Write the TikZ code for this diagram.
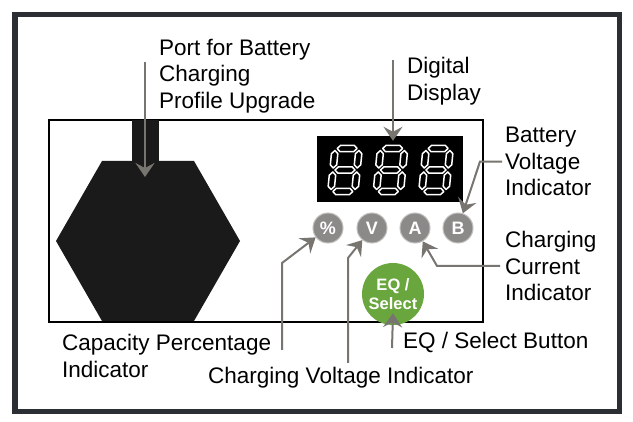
\documentclass[tikz,border=0pt]{standalone}
\usepackage{fontspec}
\setmainfont{Liberation Sans}
\usetikzlibrary{arrows.meta,positioning,calc}
\definecolor{arrowgrey}{RGB}{120,116,112}
\definecolor{ledgrey}{RGB}{140,138,136}
\definecolor{eqgreen}{RGB}{106,166,62}
\definecolor{framegrey}{RGB}{43,46,51}
\definecolor{panelblack}{RGB}{26,26,26}

% one hollow segment of the display, horizontal or vertical
\newcommand{\hseg}[3]{\filldraw[segline] (#1,#3) -- (#1+3.2,#3-3.2) -- (#2-3.2,#3-3.2) -- (#2,#3) -- (#2-3.2,#3+3.2) -- (#1+3.2,#3+3.2) -- cycle;}
\newcommand{\vseg}[3]{\filldraw[segline] (#1,#2) -- (#1+3.2,#2+3.2) -- (#1+3.2,#3-3.2) -- (#1,#3) -- (#1-3.2,#3-3.2) -- (#1-3.2,#2+3.2) -- cycle;}
\newcommand{\segdigit}[1]{%
  \begin{scope}[shift={(#1,145)},xslant=0.1]
    \hseg{5.5}{25.5}{3.5} \hseg{5.5}{25.5}{25} \hseg{5.5}{25.5}{46.5}
    \vseg{3.5}{5.5}{23} \vseg{27.5}{5.5}{23}
    \vseg{3.5}{27}{44.5} \vseg{27.5}{27}{44.5}
  \end{scope}}

\begin{document}
\begin{tikzpicture}[x=1pt,y=-1pt,
  lbl/.style={anchor=north west,inner sep=0,align=left,font=\fontsize{22.5}{26.5}\selectfont},
  arr/.style={arrowgrey,line width=2pt,-{Stealth[length=14pt,width=19pt,inset=5pt]}},
  segline/.style={fill=black,draw=white,line width=1.5pt,line join=round},
  ind/.style={circle,fill=ledgrey,draw=ledgrey!55,line width=1pt,minimum size=30pt,inner sep=0,
    text=white,font=\bfseries\fontsize{18}{18}\selectfont},
  eqbtn/.style={circle,fill=eqgreen,minimum size=62pt,inner sep=0,align=center,
    text=white,font=\bfseries\fontsize{16.5}{19}\selectfont}]
  \fill[white] (0,0) rectangle (633,422);
  \useasboundingbox (0,0) rectangle (633,422);
  \draw[framegrey,line width=5.5pt] (15,14.5) rectangle (619.5,411.5);
  % charger panel
  \draw[line width=2pt] (49,120) rectangle (483,322);
  \fill[panelblack] (102,161) -- (194,161) -- (240,241) -- (194,321) -- (102,321) -- (56,241) -- cycle;
  \fill[panelblack] (132,120) rectangle (159,162);
  \node[fill=black,minimum width=146pt,minimum height=66pt,inner sep=0] (disp) at (390,169) {};
  \segdigit{332}
  \segdigit{377.5}
  \segdigit{423}
  % indicators and button
  \node[ind] (pct) at (328,228) {\%};
  \node[ind] (volt) at (372,228) {V};
  \node[ind] (amp) at (415,228) {A};
  \node[ind] (bat) at (458,228) {B};
  \node[eqbtn] (eq) at (393,294) {EQ /\\Select};
  % labels
  \node[lbl] (portLbl) at (159,39) {Port for Battery\\Charging\\Profile Upgrade};
  \node[lbl] (dispLbl) at (407,57) {Digital\\Display};
  \node[lbl] (bvLbl) at (505,127) {Battery\\Voltage\\Indicator};
  \node[lbl] (ccLbl) at (505,231) {Charging\\Current\\Indicator};
  \node[lbl] (capLbl) at (62,334) {Capacity Percentage\\Indicator};
  \node[lbl] (cvLbl) at (208,367) {Charging Voltage Indicator};
  \node[lbl] (eqLbl) at (403,332) {EQ / Select Button};
  % connectors
  \coordinate (portTop) at (145,62);
  \coordinate (portTip) at (145,177);
  \coordinate (dispTop) at (393,60);
  \coordinate (capFoot) at (282,350);
  \coordinate (cvFoot) at (348,363);
  \coordinate (eqFoot) at (392,348);
  \draw[arr] (portTop) -- (portTip);
  \draw[arr] (dispTop) -- ([xshift=3pt,yshift=-5pt]disp.north);
  \draw[arr] ([xshift=-3pt]bvLbl.west) -- ++(-22,0) -- (bat);
  \draw[arr] ([xshift=-5pt]ccLbl.west) -- ++(-63,0) -- (amp);
  \draw[arr] (capFoot) -- ++(0,-87) -- (pct);
  \draw[arr] (cvFoot) -- ++(0,-105) -- (volt);
  \draw[arr] (eqFoot) -- ([yshift=12pt]eq.south);
\end{tikzpicture}
\end{document}
